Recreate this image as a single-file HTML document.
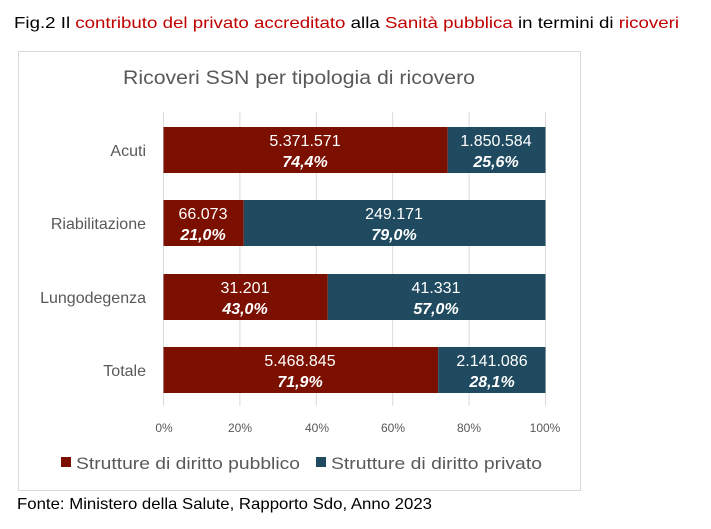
<!DOCTYPE html>
<html><head><meta charset="utf-8"><style>
body{margin:0;background:#fff;width:711px;height:529px;overflow:hidden}
svg{display:block;font-family:"Liberation Sans",sans-serif}
</style></head><body>
<svg width="711" height="529" viewBox="0 0 711 529">
<text x="14" y="28" font-size="16" fill="#000" textLength="665" lengthAdjust="spacingAndGlyphs">Fig.2 Il <tspan fill="#c00000">contributo del privato accreditato</tspan> alla <tspan fill="#c00000">Sanità pubblica</tspan> in termini di <tspan fill="#c00000">ricoveri</tspan></text>
<rect x="18.5" y="51.5" width="562" height="439" fill="#fff" stroke="#d9d9d9"/>
<text x="299" y="84" font-size="19" fill="#595959" text-anchor="middle" textLength="352" lengthAdjust="spacingAndGlyphs">Ricoveri SSN per tipologia di ricovero</text>
<g stroke="#d9d9d9" stroke-width="1">
<line x1="163.5" y1="112" x2="163.5" y2="406"/><line x1="239.9" y1="112" x2="239.9" y2="406"/>
<line x1="316.3" y1="112" x2="316.3" y2="406"/><line x1="392.7" y1="112" x2="392.7" y2="406"/>
<line x1="469.1" y1="112" x2="469.1" y2="406"/><line x1="545.5" y1="112" x2="545.5" y2="406"/>
</g>
<g fill="#7b0f00">
<rect x="163.5" y="127" width="284.2" height="46"/>
<rect x="163.5" y="200" width="80.2" height="46"/>
<rect x="163.5" y="274" width="164.3" height="46"/>
<rect x="163.5" y="347" width="274.7" height="46"/>
</g>
<g fill="#1f4a60">
<rect x="447.7" y="127" width="97.8" height="46"/>
<rect x="243.7" y="200" width="301.8" height="46"/>
<rect x="327.8" y="274" width="217.7" height="46"/>
<rect x="438.2" y="347" width="107.3" height="46"/>
</g>
<g font-size="16" fill="#fff" text-anchor="middle">
<text x="305" y="146">5.371.571</text><text x="305" y="167" font-style="italic" font-weight="bold">74,4%</text>
<text x="496" y="146">1.850.584</text><text x="496" y="167" font-style="italic" font-weight="bold">25,6%</text>
<text x="203" y="219">66.073</text><text x="203" y="240" font-style="italic" font-weight="bold">21,0%</text>
<text x="394" y="219">249.171</text><text x="394" y="240" font-style="italic" font-weight="bold">79,0%</text>
<text x="245" y="293">31.201</text><text x="245" y="314" font-style="italic" font-weight="bold">43,0%</text>
<text x="436" y="293">41.331</text><text x="436" y="314" font-style="italic" font-weight="bold">57,0%</text>
<text x="300" y="366">5.468.845</text><text x="300" y="387" font-style="italic" font-weight="bold">71,9%</text>
<text x="492" y="366">2.141.086</text><text x="492" y="387" font-style="italic" font-weight="bold">28,1%</text>
</g>
<g font-size="16" fill="#595959" text-anchor="end">
<text x="146" y="156">Acuti</text><text x="146" y="229">Riabilitazione</text>
<text x="146" y="303">Lungodegenza</text><text x="146" y="376">Totale</text>
</g>
<g font-size="12" fill="#595959" text-anchor="middle">
<text x="164" y="432">0%</text><text x="240" y="432">20%</text><text x="317" y="432">40%</text>
<text x="393" y="432">60%</text><text x="469" y="432">80%</text><text x="545" y="432">100%</text>
</g>
<rect x="61" y="457" width="10" height="10" fill="#7b0f00"/>
<text x="76" y="469" font-size="17" fill="#595959" textLength="224" lengthAdjust="spacingAndGlyphs">Strutture di diritto pubblico</text>
<rect x="316" y="457" width="10" height="10" fill="#1f4a60"/>
<text x="331" y="469" font-size="17" fill="#595959" textLength="211" lengthAdjust="spacingAndGlyphs">Strutture di diritto privato</text>
<text x="17" y="509" font-size="16" fill="#000" textLength="415" lengthAdjust="spacingAndGlyphs">Fonte: Ministero della Salute, Rapporto Sdo, Anno 2023</text>
</svg>
</body></html>
